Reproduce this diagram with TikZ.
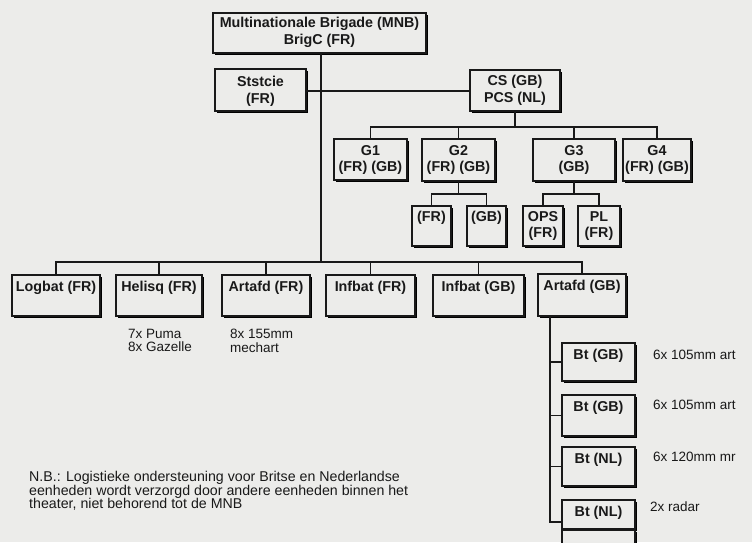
\documentclass[tikz,border=0pt]{standalone}
\usepackage{fontspec}
\setmainfont{Liberation Sans}
\usetikzlibrary{shadows}
\definecolor{paper}{RGB}{236,236,234}
\definecolor{ink}{RGB}{25,25,25}
\newcommand{\orgbox}[5]{%
  \node[box, minimum width={(#4)-(#2)-2}, minimum height={(#5)-(#3)-2}] (#1) at ({((#2)+(#4))/2-1},{((#3)+(#5))/2-1}) {};}
\tikzset{
  box/.style={draw=ink, line width=1.1pt, fill=paper, inner sep=0pt, outer sep=0pt,
    drop shadow={shadow xshift=2pt, shadow yshift=-2pt, fill=black, opacity=1}},
  btxt/.style={anchor=north, inner sep=0pt, align=center, text=ink,
    font=\bfseries\fontsize{14.3}{16.5}\selectfont},
  ntxt/.style={inner sep=0pt, align=left, text=ink,
    font=\fontsize{13.5}{13.5}\selectfont},
  conn/.style={draw=ink, line width=1.3pt},
}
\begin{document}
\begin{tikzpicture}[x=1pt,y=-1pt]
\fill[paper] (0,0) rectangle (752,542);
\useasboundingbox (0,0) rectangle (752,542);
\begin{scope}
\clip (0,0) rectangle (752,542);
\coordinate (mainbus) at (321,262);
\coordinate (gbus) at (0,127);
\coordinate (sbus) at (0,194);
\coordinate (av) at (550,522);
\coordinate (csline) at (0,91);

\orgbox{top}{213}{13}{428}{55}
\orgbox{stst}{215}{69}{308}{113}
\orgbox{cs}{470}{70}{562}{113}
\orgbox{g1}{334}{139}{409}{182}
\orgbox{g2}{422}{139}{497}{183}
\orgbox{g3}{533}{139}{617}{183}
\orgbox{g4}{623}{139}{693}{183}
\orgbox{g2a}{412}{206}{453}{248}
\orgbox{g2b}{467}{206}{508}{248}
\orgbox{ops}{523}{206}{565}{248}
\orgbox{pl}{578}{206}{622}{248}
\orgbox{logbat}{12}{275}{102}{318}
\orgbox{helisq}{116}{275}{204}{318}
\orgbox{artfr}{222}{275}{312}{318}
\orgbox{inffr}{326}{275}{417}{318}
\orgbox{infgb}{433}{275}{526}{318}
\orgbox{artgb}{538}{274}{628}{318}
\orgbox{bta}{562}{343}{637}{383}
\orgbox{btb}{562}{395}{637}{438}
\orgbox{btc}{562}{447}{637}{488}
\orgbox{btd}{562}{500}{637}{531}
\orgbox{bte}{562}{530}{637}{566}

% connectors
\draw[conn] (top.south -| mainbus) -- (mainbus);
\draw[conn] (stst.east |- csline) -- (cs.west |- csline);
\draw[conn] (cs.south) -- (cs.south |- gbus);
\draw[conn] (g1.north) |- (gbus -| g4.north) -- (g4.north);
\draw[conn] (g2.north) -- (g2.north |- gbus);
\draw[conn] (g3.north) -- (g3.north |- gbus);
\draw[conn] (g2.south) -- (g2.south |- sbus);
\draw[conn] (g2a.north) |- (sbus -| g2b.north) -- (g2b.north);
\draw[conn] (g3.south) -- (g3.south |- sbus);
\draw[conn] (ops.north) |- (sbus -| pl.north) -- (pl.north);
\draw[conn] (logbat.north) |- (mainbus -| artgb.north) -- (artgb.north);
\draw[conn] (helisq.north) -- (helisq.north |- mainbus);
\draw[conn] (artfr.north) -- (artfr.north |- mainbus);
\draw[conn] (inffr.north) -- (inffr.north |- mainbus);
\draw[conn] (infgb.north) -- (infgb.north |- mainbus);
\draw[conn] (artgb.south -| av) -- (av) -- (av -| btd.west);
\draw[conn] (bta.west) -- (bta.west -| av);
\draw[conn] (btb.west) -- (btb.west -| av);
\draw[conn] (btc.west) -- (btc.west -| av);

% box texts
\node[btxt] (ttop) at ([yshift=-4pt]top.north) {Multinationale Brigade (MNB)\\BrigC (FR)};
\node[btxt] (tstst) at ([yshift=-7pt]stst.north) {Ststcie\\(FR)};
\node[btxt] (tcs) at ([yshift=-5pt]cs.north) {CS (GB)\\PCS (NL)};
\node[btxt] (tg1) at ([yshift=-6pt]g1.north) {G1\\(FR) (GB)};
\node[btxt] (tg2) at ([yshift=-6pt]g2.north) {G2\\(FR) (GB)};
\node[btxt] (tg3) at ([yshift=-6pt]g3.north) {G3\\(GB)};
\node[btxt] (tg4) at ([yshift=-6pt]g4.north) {G4\\(FR) (GB)};
\node[btxt] (tg2a) at ([yshift=-5pt]g2a.north) {(FR)};
\node[btxt] (tg2b) at ([yshift=-5pt]g2b.north) {(GB)};
\node[btxt] (tops) at ([yshift=-5pt]ops.north) {OPS\\(FR)};
\node[btxt] (tpl) at ([yshift=-5pt]pl.north) {PL\\(FR)};
\node[btxt] (tlogbat) at ([yshift=-6pt]logbat.north) {Logbat (FR)};
\node[btxt] (thelisq) at ([yshift=-6pt]helisq.north) {Helisq (FR)};
\node[btxt] (tartfr) at ([yshift=-6pt]artfr.north) {Artafd (FR)};
\node[btxt] (tinffr) at ([yshift=-6pt]inffr.north) {Infbat (FR)};
\node[btxt] (tinfgb) at ([yshift=-6pt]infgb.north) {Infbat (GB)};
\node[btxt] (tartgb) at ([yshift=-6pt]artgb.north) {Artafd (GB)};
\node[btxt] (tbta) at ([yshift=-6pt]bta.north) {Bt (GB)};
\node[btxt] (tbtb) at ([yshift=-6pt]btb.north) {Bt (GB)};
\node[btxt] (tbtc) at ([yshift=-6pt]btc.north) {Bt (NL)};
\node[btxt] (tbtd) at ([yshift=-6pt]btd.north) {Bt (NL)};

% annotations
\node[ntxt, anchor=north west] (nhel) at (128,329) {7x Puma\\8x Gazelle};
\node[ntxt, anchor=north west] (nart) at (230,329) {8x 155mm\\mechart};
\node[ntxt, anchor=west] (na) at (653,355) {6x 105mm art};
\node[ntxt, anchor=west] (nb) at (653,405) {6x 105mm art};
\node[ntxt, anchor=west] (nc) at (653,457) {6x 120mm mr};
\node[ntxt, anchor=west] (nd) at (650,507) {2x radar};
\node[ntxt, anchor=north west, font=\fontsize{14.2}{13.5}\selectfont] (nbnote) at (29,471)
  {N.B.: Logistieke ondersteuning voor Britse en Nederlandse\\
   eenheden wordt verzorgd door andere eenheden binnen het\\
   theater, niet behorend tot de MNB};
\end{scope}
\end{tikzpicture}
\end{document}
